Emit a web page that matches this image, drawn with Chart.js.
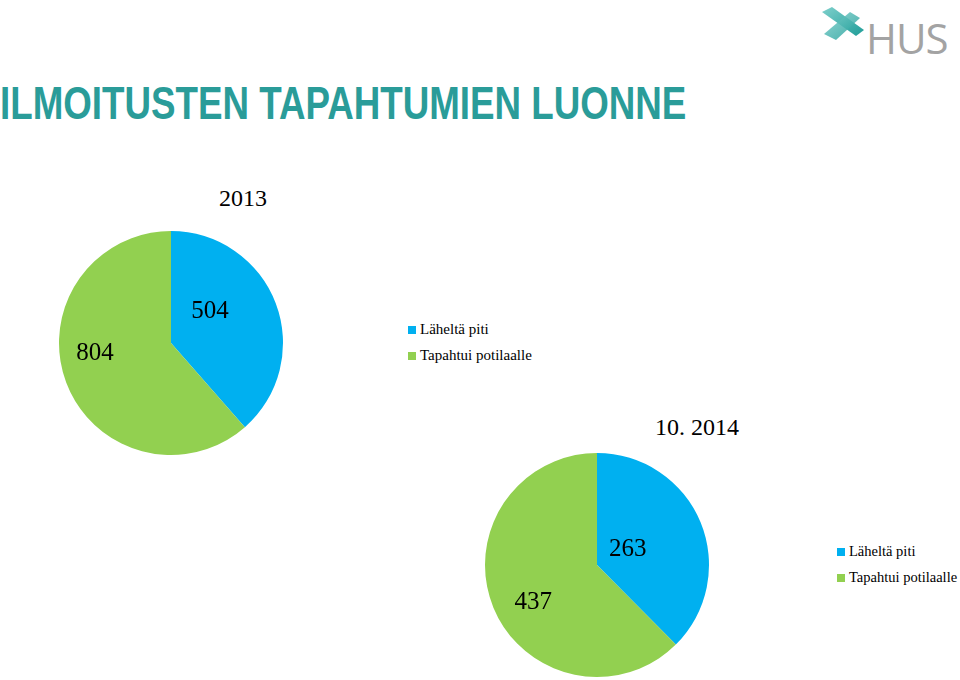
<!DOCTYPE html>
<html>
<head>
<meta charset="utf-8">
<script src="https://cdn.jsdelivr.net/npm/chart.js@4"></script>
<style>
  html, body { margin: 0; padding: 0; background: #fff; width: 960px; height: 680px; overflow: hidden; }
  body { position: relative; }
  .pie { position: absolute; }
  .ptitle { position: absolute; font-family: "Liberation Serif", "Times New Roman", serif; font-size: 24px; color: #000; transform: translate(-50%, -50%); white-space: nowrap; }
  .legend { position: absolute; font-family: "Liberation Serif", "Times New Roman", serif; font-size: 15px; color: #000; }
  .legend div { height: 26px; line-height: 26px; white-space: nowrap; }
  .legend span.box { display: inline-block; width: 8px; height: 8px; margin-right: 4px; vertical-align: 0px; }
  #l2 { font-size: 14.5px; }
  #mainTitle { position: absolute; left: 0; top: 80px; font-family: "Liberation Sans", Arial, sans-serif; font-weight: bold; font-size: 46px; color: #2a9c99; white-space: nowrap; transform-origin: 0 0; line-height: 46px; }
  #hus { position: absolute; left: 866px; top: 9px; font-family: "Open Sans", "Liberation Sans", sans-serif; font-size: 42px; color: #a3a3a3; letter-spacing: -1px; }
</style>
</head>
<body>
<div id="mainTitle">ILMOITUSTEN TAPAHTUMIEN LUONNE</div>
<svg style="position:absolute;left:820px;top:4px" width="46" height="38" viewBox="0 0 46 38">
  <defs>
    <linearGradient id="g" x1="0" y1="0" x2="1" y2="1">
      <stop offset="0" stop-color="#7fd0cc"/>
      <stop offset="1" stop-color="#1f9d98"/>
    </linearGradient>
  </defs>
  <polygon points="2,8 12,3 44,26 36,32" fill="url(#g)"/>
  <polygon points="4,30 30,8 40,14 16,36" fill="url(#g)" opacity="0.85"/>
</svg>
<div id="hus">HUS</div>

<div class="ptitle" id="t1" style="left:243px;top:198px"></div>
<canvas class="pie" id="c1" width="240" height="240" style="left:51px;top:223px"></canvas>
<div class="legend" id="l1" style="left:408px;top:316px"></div>

<div class="ptitle" id="t2" style="left:697px;top:427px"></div>
<canvas class="pie" id="c2" width="240" height="240" style="left:477px;top:445px"></canvas>
<div class="legend" id="l2" style="left:837px;top:538px"></div>

<script>
const categories = ["Läheltä piti", "Tapahtui potilaalle"];
const values2013 = [504, 804];
const values2014 = [263, 437];
const chartTitles = ["2013", "10. 2014"];
const sliceColors = ["#00b0f0", "#92d050"];

// squeeze the condensed headline to its width in the picture
const mt = document.getElementById("mainTitle");
mt.style.transform = "scaleX(" + (686 / mt.offsetWidth) + ")";

const sliceLabels = {
  id: "sliceLabels",
  afterDatasetsDraw(chart, args, opts) {
    const ctx = chart.ctx;
    const meta = chart.getDatasetMeta(0);
    ctx.save();
    ctx.font = "25px 'Liberation Serif', 'Times New Roman', serif";
    ctx.fillStyle = "#000";
    ctx.textAlign = "center";
    ctx.textBaseline = "middle";
    meta.data.forEach((arc, i) => {
      const p = arc.getProps(["x", "y", "startAngle", "endAngle", "outerRadius"], true);
      const place = opts.place[i];
      const a = (p.startAngle + p.endAngle) / 2 + place.shift * Math.PI / 180;
      const d = p.outerRadius * place.frac;
      ctx.fillText(chart.data.datasets[0].data[i], p.x + d * Math.cos(a), p.y + d * Math.sin(a));
    });
    ctx.restore();
  }
};

function makePie(canvasId, titleId, legendId, values, title, place) {
  document.getElementById(titleId).textContent = title;
  const chart = new Chart(document.getElementById(canvasId), {
    type: "pie",
    data: {
      labels: categories,
      datasets: [{ data: values, backgroundColor: sliceColors, borderWidth: 0 }],
    },
    options: {
      responsive: false,
      animation: false,
      layout: { padding: 8 },
      plugins: {
        legend: { display: false },
        tooltip: { enabled: false },
        sliceLabels: { place: place },
      },
    },
    plugins: [sliceLabels],
  });

  const items = chart.options.plugins.legend.labels.generateLabels(chart);
  const box = document.getElementById(legendId);
  items.forEach((it) => {
    const row = document.createElement("div");
    const sw = document.createElement("span");
    sw.className = "box";
    sw.style.background = it.fillStyle;
    row.appendChild(sw);
    row.appendChild(document.createTextNode(it.text));
    box.appendChild(row);
  });
  return chart;
}

makePie("c1", "t1", "l1", values2013, chartTitles[0], [{ shift: -18, frac: 0.445 }, { shift: 13, frac: 0.685 }]);
makePie("c2", "t2", "l2", values2014, chartTitles[1], [{ shift: -5, frac: 0.31 }, { shift: -8, frac: 0.66 }]);
</script>
</body>
</html>
